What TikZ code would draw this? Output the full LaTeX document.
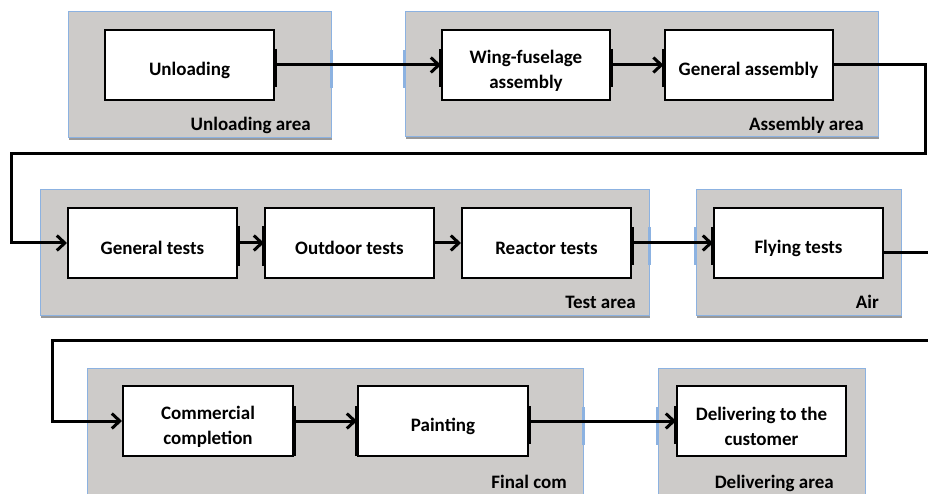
\documentclass[tikz,border=0pt]{standalone}
\usepackage{fontspec}
\setmainfont{Carlito}
\usetikzlibrary{arrows.meta,shadows}
\definecolor{areafill}{RGB}{205,203,201}
\definecolor{areaedge}{RGB}{140,178,225}
\newcommand{\firstline}{\rule{0pt}{24pt}}
\begin{document}
\begin{tikzpicture}[x=1pt,y=-1pt,
  area/.style={draw=areaedge,line width=1pt,fill=areafill,rectangle,inner sep=0pt,
    drop shadow={shadow xshift=1pt,shadow yshift=-2.5pt,opacity=0.4,fill=black}},
  proc/.style={draw=black,line width=2pt,fill=white,rectangle,minimum height=70pt,
    align=center,inner sep=2pt,font=\fontsize{19}{25}\selectfont\bfseries},
  arealabel/.style={anchor=base east,inner sep=0pt,font=\fontsize{19}{24}\selectfont\bfseries},
  flow/.style={line width=3pt,-{Straight Barb[length=8pt,width=15pt]}},
  portbar/.style={line width=4pt},
  areatick/.style={draw=areaedge,line width=2.5pt}]

\useasboundingbox (0,0) rectangle (928,494);
\fill[white] (0,0) rectangle (928,494);

% zones
\node[area,minimum width=263pt,minimum height=126pt] (ua) at (199.5,75) {};
\node[area,minimum width=473pt,minimum height=125pt] (aa) at (641.5,74.5) {};
\node[area,minimum width=609pt,minimum height=125pt] (ta) at (344.5,252.5) {};
\node[area,minimum width=205pt,minimum height=125pt] (air) at (798.5,252.5) {};
\node[area,minimum width=496pt,minimum height=140pt] (fa) at (335,438) {};
\node[area,minimum width=207pt,minimum height=140pt] (da) at (761.5,438) {};

% zone labels
\node[arealabel] (ual) at (311,131) {Unloading area};
\node[arealabel] (aal) at (864,131) {Assembly area};
\node[arealabel] (tal) at (636,308) {Test area};
\node[arealabel] (airl) at (879,308) {Air};
\node[arealabel] (fal) at (567,488) {Final com};
\node[arealabel] (dal) at (834,488) {Delivering area};

% process steps
\node[proc,minimum width=169pt] (un) at (189.5,65) {\firstline Unloading};
\node[proc,minimum width=168pt] (wing) at (526,65) {\firstline Wing-fuselage\\assembly};
\node[proc,minimum width=168pt] (ga) at (748.5,65) {\firstline General assembly};
\node[proc,minimum width=169pt] (gt) at (152.5,243) {\firstline General tests};
\node[proc,minimum width=169pt] (ot) at (349.5,243) {\firstline Outdoor tests};
\node[proc,minimum width=169pt] (rt) at (546.5,243) {\firstline Reactor tests};
\node[proc,minimum width=169pt] (fly) at (798.5,243) {\firstline Flying tests};
\node[proc,minimum width=170pt] (comm) at (208,421) {\firstline Commercial\\completion};
\node[proc,minimum width=170pt] (paint) at (443,421) {\firstline Painting};
\node[proc,minimum width=169pt] (del) at (761.5,421) {\firstline Delivering to the\\customer};

% connection marks on zone borders
\draw[areatick] (ua.east |- 0,50) -- (ua.east |- 0,88);
\draw[areatick] (aa.west |- 0,50) -- (aa.west |- 0,88);
\draw[areatick] (ta.east |- 0,227) -- (ta.east |- 0,265);
\draw[areatick] (air.west |- 0,227) -- (air.west |- 0,265);
\draw[areatick] (fa.east |- 0,407) -- (fa.east |- 0,445);
\draw[areatick] (da.west |- 0,407) -- (da.west |- 0,445);

% ports on process boxes
\draw[portbar] (un.east |- 0,49) -- (un.east |- 0,87);
\draw[portbar] (wing.west |- 0,49) -- (wing.west |- 0,87);
\draw[portbar] (wing.east |- 0,49) -- (wing.east |- 0,87);
\draw[portbar] (ga.west |- 0,49) -- (ga.west |- 0,87);
\draw[portbar] (gt.east |- 0,226) -- (gt.east |- 0,266);
\draw[portbar] (ot.west |- 0,226) -- (ot.west |- 0,266);
\draw[portbar] (rt.east |- 0,227) -- (rt.east |- 0,265);
\draw[portbar] (fly.west |- 0,227) -- (fly.west |- 0,265);
\draw[portbar] (comm.east |- 0,406) -- (comm.east |- 0,456);
\draw[portbar] (paint.west |- 0,406) -- (paint.west |- 0,456);
\draw[portbar] (paint.east |- 0,406) -- (paint.east |- 0,444);
\draw[portbar] (del.west |- 0,406) -- (del.west |- 0,444);

% flow
\draw[flow] (un.east) -- (wing.west);
\draw[flow] (wing.east) -- (ga.west);
\draw[flow] (ga.east) -- (925,65) -- (925,154) -- (11,154) -- (11,243) -- (gt.west);
\draw[flow] (gt.east) -- (ot.west);
\draw[flow] (ot.east) -- (rt.west);
\draw[flow] (rt.east) -- (fly.west);
\draw[flow] ([yshift=-9pt]fly.east) -- (945,252) -- (945,340) -- (52,340) -- (52,421) -- (comm.west);
\draw[flow] (comm.east) -- (paint.west);
\draw[flow] (paint.east) -- (del.west);
\end{tikzpicture}
\end{document}
